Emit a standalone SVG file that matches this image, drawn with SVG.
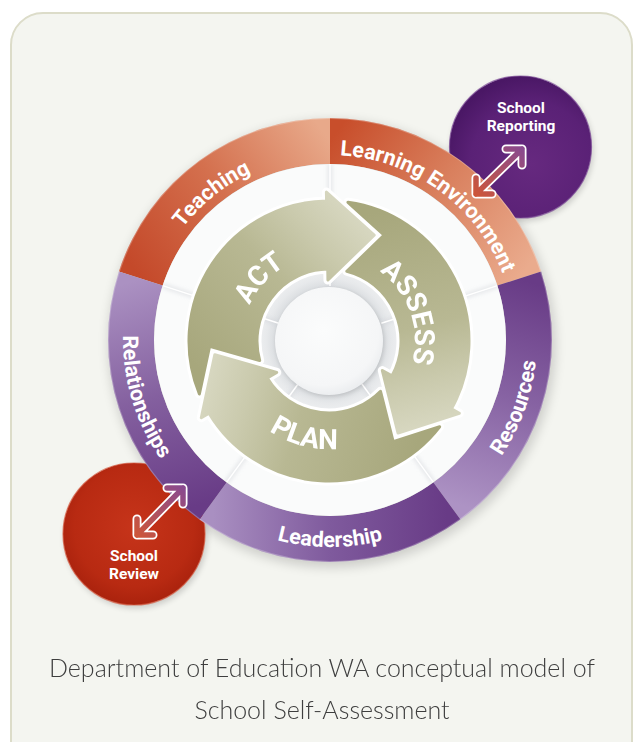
<svg xmlns="http://www.w3.org/2000/svg" width="641" height="742" viewBox="0 0 641 742">
  <defs>
    <style>
      .seg-label{font-family:Roboto,"Liberation Sans",Arial,sans-serif;font-weight:700;font-size:21.5px;fill:#fff;text-anchor:middle}
      .cycle-label{font-family:Roboto,"Liberation Sans",Arial,sans-serif;font-weight:700;font-size:28px;fill:#fff;text-anchor:middle}
      .node-label{font-family:Roboto,"Liberation Sans",Arial,sans-serif;font-weight:700;font-size:15.5px;fill:#fff;text-anchor:middle}
      .caption{font-family:Lato,"Open Sans","Liberation Sans",sans-serif;font-weight:300;font-size:25px;fill:#3e3e3e;text-anchor:middle}
      .arrow-halo{fill:#fff;stroke:#fff;stroke-width:9;stroke-linejoin:round}
      .arrow-body{fill:url(#g-cycle);stroke:url(#g-cycle);stroke-width:3;stroke-linejoin:round}
      .link-halo{fill:none;stroke:#fff;stroke-width:9;stroke-linecap:round;stroke-linejoin:round}
      .link-line{fill:none;stroke-width:5.5;stroke-linecap:round;stroke-linejoin:round}
      .divider{stroke:#c9cdd2;stroke-width:4;opacity:.5}
      .divider-hi{stroke:#fff;stroke-width:1.5}
    </style>

    <filter id="blur6" x="-20%" y="-20%" width="140%" height="140%"><feGaussianBlur stdDeviation="6"/></filter>
    <filter id="blur3" x="-30%" y="-30%" width="160%" height="160%"><feGaussianBlur stdDeviation="3"/></filter>
    <filter id="blur2" x="-30%" y="-30%" width="160%" height="160%"><feGaussianBlur stdDeviation="2"/></filter>

    <!-- ring segment gradients: dark at the clockwise start, light at the end -->
    <linearGradient id="g-teaching" gradientUnits="userSpaceOnUse" x1="140.73" y1="278.51" x2="330" y2="141">
      <stop offset="0" stop-color="#c4492a"/><stop offset="0.5" stop-color="#d4704e"/><stop offset="1" stop-color="#e8a98a"/>
    </linearGradient>
    <linearGradient id="g-learning" gradientUnits="userSpaceOnUse" x1="330" y1="141" x2="519.27" y2="278.51">
      <stop offset="0" stop-color="#c84e2b"/><stop offset="0.5" stop-color="#d9805e"/><stop offset="1" stop-color="#eaab8d"/>
    </linearGradient>
    <linearGradient id="g-resources" gradientUnits="userSpaceOnUse" x1="519.27" y1="278.51" x2="446.97" y2="500.99">
      <stop offset="0" stop-color="#683b86"/><stop offset="0.5" stop-color="#8763a3"/><stop offset="1" stop-color="#ad93c4"/>
    </linearGradient>
    <linearGradient id="g-leadership" gradientUnits="userSpaceOnUse" x1="446.97" y1="500.99" x2="213.03" y2="500.99">
      <stop offset="0" stop-color="#683b86"/><stop offset="0.5" stop-color="#7f5a9d"/><stop offset="1" stop-color="#a98fc1"/>
    </linearGradient>
    <linearGradient id="g-relationships" gradientUnits="userSpaceOnUse" x1="213.03" y1="500.99" x2="140.73" y2="278.51">
      <stop offset="0" stop-color="#683b86"/><stop offset="0.5" stop-color="#84609f"/><stop offset="1" stop-color="#ab91c2"/>
    </linearGradient>

    <!-- olive cycle arrows, tail dark to head light (local coordinates) -->
    <linearGradient id="g-cycle" gradientUnits="userSpaceOnUse" x1="-120" y1="40" x2="40" y2="-112">
      <stop offset="0" stop-color="#a7a77c"/><stop offset="0.55" stop-color="#b8b893"/><stop offset="0.8" stop-color="#cacaad"/><stop offset="1" stop-color="#d7d7c0"/>
    </linearGradient>

    <radialGradient id="g-hub-ring" gradientUnits="userSpaceOnUse" cx="329" cy="341" r="78">
      <stop offset="0.69" stop-color="#dadde0"/><stop offset="0.8" stop-color="#e7e9eb"/><stop offset="1" stop-color="#f3f4f5"/>
    </radialGradient>
    <radialGradient id="g-hub" cx="0.45" cy="0.4" r="0.6">
      <stop offset="0" stop-color="#fbfcfc"/><stop offset="0.85" stop-color="#f5f6f7"/><stop offset="1" stop-color="#eceef0"/>
    </radialGradient>

    <radialGradient id="g-reporting" cx="0.58" cy="0.62" r="0.62">
      <stop offset="0" stop-color="#66297f"/><stop offset="0.7" stop-color="#5a2176"/><stop offset="1" stop-color="#4a1765"/>
    </radialGradient>
    <radialGradient id="g-review" cx="0.5" cy="0.45" r="0.6">
      <stop offset="0" stop-color="#c6341a"/><stop offset="0.7" stop-color="#b82a12"/><stop offset="1" stop-color="#a41f0b"/>
    </radialGradient>

    <linearGradient id="g-link-rep" gradientUnits="userSpaceOnUse" x1="476" y1="194" x2="522" y2="149">
      <stop offset="0" stop-color="#cc553a"/><stop offset="1" stop-color="#8a4a8e"/>
    </linearGradient>
    <linearGradient id="g-link-rev" gradientUnits="userSpaceOnUse" x1="137" y1="535" x2="183" y2="488">
      <stop offset="0" stop-color="#cc553a"/><stop offset="1" stop-color="#8a4a8e"/>
    </linearGradient>

    <clipPath id="clip-inner"><circle cx="330" cy="340" r="176"/></clipPath>

    <!-- one curved arrow about the origin: notched tail, body band r 72..140, head -->
    <path id="cycle-arrow" d="M -129.62 52.94 A 140 140 0 0 1 -2.44 -139.98 L -2.60 -148.98 L 45.16 -105.80 L -1.07 -60.99 L -1.26 -71.99 A 72 72 0 0 0 -69.33 19.47 L -119.37 5.22 Z"/>

    <!-- label baselines -->
    <path id="p-teaching" d="M 147.28 368.94 A 185 185 0 0 1 396.30 167.29"/>
    <path id="p-learning" d="M 254.76 171.0 A 185 185 0 0 1 513.99 359.34"/>
    <path id="p-resources" d="M 365.94 543.86 A 207 207 0 0 0 488.57 206.94"/>
    <path id="p-leadership" d="M 150.73 443.5 A 207 207 0 0 0 509.27 443.5"/>
    <path id="p-relationships" d="M 178.60 198.83 A 207 207 0 0 0 283.43 541.70"/>
    <path id="p-act" d="M 246.26 367.88 A 87 87 0 0 1 347.09 255.90"/>
    <path id="p-assess" d="M 344.67 256.44 A 86 86 0 0 1 394.40 396.85"/>
    <path id="p-plan" d="M 224.93 369.86 A 108 108 0 0 0 406.04 416.70"/>
  </defs>

  <!-- page and card -->
  <rect x="0" y="0" width="641" height="742" fill="#ffffff"/>
  <rect id="card" x="11" y="13" width="621" height="770" rx="32" fill="#f4f5f0" stroke="#dcdcc9" stroke-width="2"/>

  <!-- soft shadows under the wheel and the side circles -->
  <circle cx="332" cy="344" r="223" fill="#000" opacity="0.17" filter="url(#blur6)"/>
  <circle cx="522" cy="150" r="71" fill="#000" opacity="0.18" filter="url(#blur3)"/>
  <circle cx="136" cy="537" r="71" fill="#000" opacity="0.18" filter="url(#blur3)"/>

  <g id="node-school-reporting">
    <circle cx="520.5" cy="147" r="71" fill="url(#g-reporting)" stroke="#7a4896" stroke-width="1.2" stroke-opacity="0.7"/>
    <text class="node-label" x="521" y="113">School</text>
    <text class="node-label" x="521" y="131">Reporting</text>
  </g>

  <g id="node-school-review">
    <circle cx="134" cy="534" r="71" fill="url(#g-review)" stroke="#d4573d" stroke-width="1.2" stroke-opacity="0.7"/>
    <text class="node-label" x="134" y="561">School</text>
    <text class="node-label" x="134" y="579">Review</text>
  </g>

  <!-- outer ring of five domains -->
  <g id="seg-teaching">
    <path d="M 118.86 271.40 A 222 222 0 0 1 330 118 L 330 164 A 176 176 0 0 0 162.61 285.62 Z" fill="url(#g-teaching)"/>
    <text class="seg-label"><textPath href="#p-teaching" startOffset="50%">Teaching</textPath></text>
  </g>
  <g id="seg-learning-environment">
    <path d="M 330 118 A 222 222 0 0 1 541.14 271.40 L 497.39 285.62 A 176 176 0 0 0 330 164 Z" fill="url(#g-learning)"/>
    <text class="seg-label"><textPath href="#p-learning" startOffset="50%">Learning Environment</textPath></text>
  </g>
  <g id="seg-resources">
    <path d="M 541.14 271.40 A 222 222 0 0 1 460.49 519.60 L 433.45 482.38 A 176 176 0 0 0 497.39 285.62 Z" fill="url(#g-resources)"/>
    <text class="seg-label"><textPath href="#p-resources" startOffset="50%">Resources</textPath></text>
  </g>
  <g id="seg-leadership">
    <path d="M 460.49 519.60 A 222 222 0 0 1 199.51 519.60 L 226.55 482.38 A 176 176 0 0 0 433.45 482.38 Z" fill="url(#g-leadership)"/>
    <text class="seg-label"><textPath href="#p-leadership" startOffset="50%">Leadership</textPath></text>
  </g>
  <g id="seg-relationships">
    <path d="M 199.51 519.60 A 222 222 0 0 1 118.86 271.40 L 162.61 285.62 A 176 176 0 0 0 226.55 482.38 Z" fill="url(#g-relationships)"/>
    <text class="seg-label"><textPath href="#p-relationships" startOffset="50%">Relationships</textPath></text>
  </g>
  <circle cx="330" cy="340" r="221.5" fill="none" stroke="#ffffff" stroke-opacity="0.25" stroke-width="1.2"/>

  <!-- inner white disc, hub ring and segment dividers -->
  <g id="wheel-inner">
    <circle cx="330" cy="340" r="176" fill="#fafbfb"/>
    <circle cx="329" cy="341" r="78" fill="url(#g-hub-ring)"/>
    <g clip-path="url(#clip-inner)">
      <g filter="url(#blur2)">
        <line class="divider" x1="330" y1="286" x2="330" y2="164"/>
        <line class="divider" x1="278.64" y1="323.31" x2="162.61" y2="285.62"/>
        <line class="divider" x1="381.36" y1="323.31" x2="497.39" y2="285.62"/>
        <line class="divider" x1="361.74" y1="383.69" x2="433.45" y2="482.38"/>
        <line class="divider" x1="298.26" y1="383.69" x2="226.55" y2="482.38"/>
      </g>
      <line class="divider-hi" x1="330" y1="286" x2="330" y2="164"/>
      <line class="divider-hi" x1="278.64" y1="323.31" x2="162.61" y2="285.62"/>
      <line class="divider-hi" x1="381.36" y1="323.31" x2="497.39" y2="285.62"/>
      <line class="divider-hi" x1="361.74" y1="383.69" x2="433.45" y2="482.38"/>
      <line class="divider-hi" x1="298.26" y1="383.69" x2="226.55" y2="482.38"/>
    </g>
    <circle cx="330" cy="342.5" r="54" fill="#000" opacity="0.13" filter="url(#blur2)"/>
    <circle id="hub" cx="329" cy="341" r="54" fill="url(#g-hub)"/>
  </g>

  <!-- cycle arrows: white halos first, then the olive bodies -->
  <g id="cycle-halos">
    <use href="#cycle-arrow" class="arrow-halo" transform="translate(329 341)"/>
    <use href="#cycle-arrow" class="arrow-halo" transform="translate(329 341) rotate(120)"/>
    <use href="#cycle-arrow" class="arrow-halo" transform="translate(329 341) rotate(240)"/>
  </g>
  <g id="cycle-act">
    <use href="#cycle-arrow" class="arrow-body" transform="translate(329 341)"/>
    <text class="cycle-label"><textPath href="#p-act" startOffset="50%">ACT</textPath></text>
  </g>
  <g id="cycle-assess">
    <use href="#cycle-arrow" class="arrow-body" transform="translate(329 341) rotate(120)"/>
    <text class="cycle-label"><textPath href="#p-assess" startOffset="50%">ASSESS</textPath></text>
  </g>
  <g id="cycle-plan">
    <use href="#cycle-arrow" class="arrow-body" transform="translate(329 341) rotate(240)"/>
    <text class="cycle-label"><textPath href="#p-plan" startOffset="50%">PLAN</textPath></text>
  </g>

  <!-- two-way links between the wheel and the outer processes -->
  <g id="connectors">
    <path class="link-halo" d="M 506 149 L 522 149 L 522 165 M 522 149 L 476 194 M 476 178 L 476 194 L 492 194"/>
    <path class="link-line" stroke="url(#g-link-rep)" d="M 506 149 L 522 149 L 522 165 M 522 149 L 476 194 M 476 178 L 476 194 L 492 194"/>
    <path class="link-halo" d="M 167 488 L 183 488 L 183 504 M 183 488 L 137 535 M 137 519 L 137 535 L 153 535"/>
    <path class="link-line" stroke="url(#g-link-rev)" d="M 167 488 L 183 488 L 183 504 M 183 488 L 137 535 M 137 519 L 137 535 L 153 535"/>
  </g>

  <g id="caption">
    <text class="caption" x="322" y="677">Department of Education WA conceptual model of</text>
    <text class="caption" x="322" y="719">School Self-Assessment</text>
  </g>
</svg>
